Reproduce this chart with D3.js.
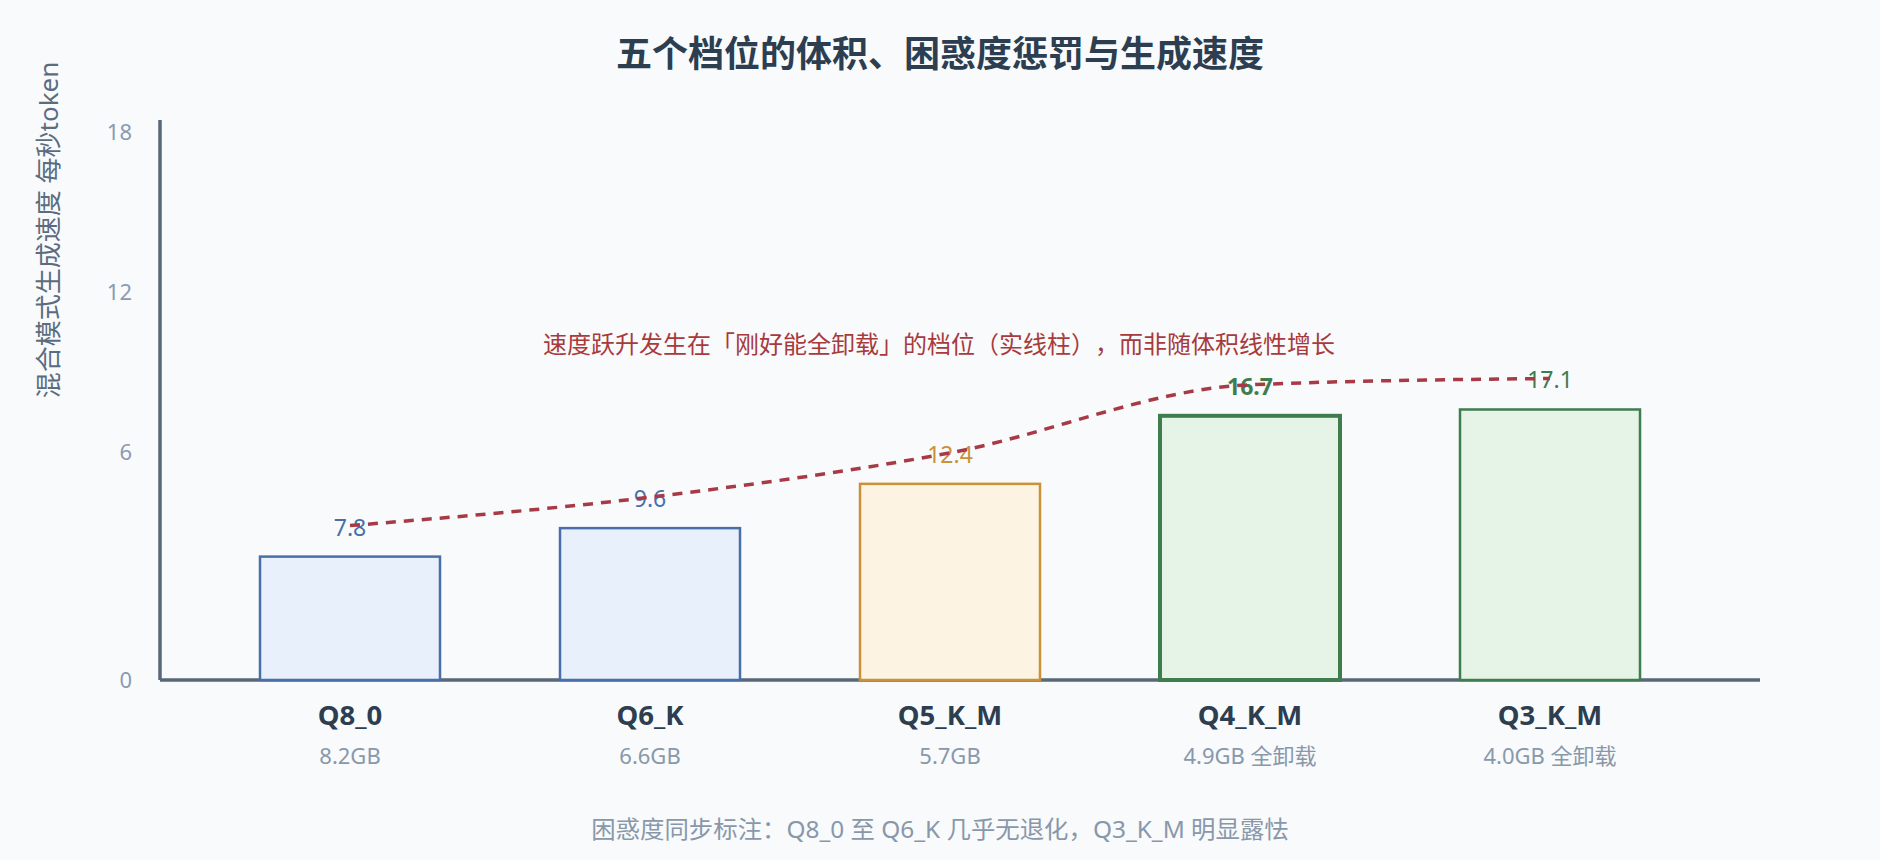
<!DOCTYPE html>
<html>
<head>
<meta charset="utf-8">
<script src="https://cdn.jsdelivr.net/npm/d3@7/dist/d3.min.js"></script>
<style>
  html, body { margin: 0; padding: 0; background: #f8fafc; }
  svg { display: block; font-family: "Noto Sans", "Noto Sans CJK SC", sans-serif; text-spacing-trim: space-all; }
  svg text { text-spacing-trim: space-all; }
</style>
</head>
<body>
<svg id="chart" width="1880" height="860"></svg>
<script>
// ---- data ----
const categories = ["Q8_0", "Q6_K", "Q5_K_M", "Q4_K_M", "Q3_K_M"];
const sizeLabels = ["8.2GB", "6.6GB", "5.7GB", "4.9GB 全卸载", "4.0GB 全卸载"];
const speeds = [7.8, 9.6, 12.4, 16.7, 17.1];
const groups = ["partial", "partial", "mid", "full", "full"];
const highlighted = ["Q4_K_M"];
const yTickValues = [0, 6, 12, 18];
const titleText = "五个档位的体积、困惑度惩罚与生成速度";
const yTitleText = "混合模式生成速度 每秒token";
const annotationText = "速度跃升发生在「刚好能全卸载」的档位（实线柱），而非随体积线性增长";
const noteText = "困惑度同步标注：Q8_0 至 Q6_K 几乎无退化，Q3_K_M 明显露怯";

// ---- styles ----
const palette = {
  partial: { fill: "#e8f0fc", stroke: "#4a6fa8", text: "#4a6fa8" },
  mid:     { fill: "#fdf3e2", stroke: "#c9913a", text: "#c9913a" },
  full:    { fill: "#e6f4e8", stroke: "#3f7d4f", text: "#3f7d4f" }
};

const W = 1880, H = 860;
const plotLeft = 160, plotRight = 1760, plotTop = 120, plotBottom = 680;

const svg = d3.select("#chart");
svg.append("rect").attr("width", W).attr("height", H).attr("fill", "#f8fafc");

const x = d3.scaleBand().domain(categories).range([200, 1700]).paddingInner(0.4).paddingOuter(0.2);
const yBar = d3.scaleLinear().domain([0, 35.4]).range([plotBottom, plotTop]);
const yAxisScale = d3.scaleLinear().domain([0, 6, 18]).range([plotBottom, 452, 132]);

const data = categories.map((c, i) => ({ cat: c, size: sizeLabels[i], v: speeds[i], g: groups[i], hi: highlighted.includes(c) }));

// title
svg.append("text").attr("x", W / 2).attr("y", 67).attr("text-anchor", "middle")
  .attr("font-size", 36).attr("font-weight", 700).attr("fill", "#2c3e50").text(titleText);

// y axis
const yAxis = svg.append("g").attr("transform", `translate(${plotLeft},0)`)
  .call(d3.axisLeft(yAxisScale).tickValues(yTickValues).tickSize(0).tickPadding(28).tickFormat(d3.format("d")));
yAxis.select(".domain").remove();
yAxis.selectAll("text").attr("font-size", 22).attr("fill", "#8a9bb0").attr("font-family", "Noto Sans, Noto Sans CJK SC, sans-serif");
svg.append("line").attr("x1", plotLeft).attr("x2", plotLeft).attr("y1", plotTop).attr("y2", plotBottom)
  .attr("stroke", "#586878").attr("stroke-width", 3.5);

// y title
svg.append("text").attr("transform", "translate(58,230) rotate(-90)").attr("text-anchor", "middle")
  .attr("font-size", 26).attr("fill", "#5c6c7e").text(yTitleText);

// x axis line
svg.append("line").attr("x1", plotLeft).attr("x2", plotRight).attr("y1", plotBottom).attr("y2", plotBottom)
  .attr("stroke", "#586878").attr("stroke-width", 3.5);

// bars
svg.selectAll("rect.bar").data(data).join("rect").attr("class", "bar")
  .attr("x", d => x(d.cat)).attr("width", x.bandwidth())
  .attr("y", d => yBar(d.v)).attr("height", d => yBar(0) - yBar(d.v))
  .attr("fill", d => palette[d.g].fill).attr("stroke", d => palette[d.g].stroke)
  .attr("stroke-width", d => d.hi ? 4 : 2.5);

// value labels
svg.selectAll("text.val").data(data).join("text").attr("class", "val")
  .attr("x", d => x(d.cat) + x.bandwidth() / 2).attr("y", d => yBar(d.v) - 21)
  .attr("text-anchor", "middle").attr("font-size", 23)
  .attr("font-weight", d => d.hi ? 700 : 400)
  .attr("fill", d => palette[d.g].text).text(d => d.v.toFixed(1));

// dashed trend line
const line = d3.line().x(d => x(d.cat) + x.bandwidth() / 2).y(d => yBar(d.v) - 31).curve(d3.curveMonotoneX);
svg.append("path").datum(data).attr("d", line).attr("fill", "none")
  .attr("stroke", "#a83a45").attr("stroke-width", 3.5).attr("stroke-dasharray", "10 8");

// annotation
svg.append("text").attr("x", 939).attr("y", 353).attr("text-anchor", "middle")
  .attr("font-size", 24).attr("fill", "#a83a3c").text(annotationText);

// x category labels
svg.selectAll("text.cat").data(data).join("text").attr("class", "cat")
  .attr("x", d => x(d.cat) + x.bandwidth() / 2).attr("y", 725).attr("text-anchor", "middle")
  .attr("font-size", 27.5).attr("font-weight", 700).attr("fill", "#2c3e50").text(d => d.cat);

svg.selectAll("text.size").data(data).join("text").attr("class", "size")
  .attr("x", d => x(d.cat) + x.bandwidth() / 2).attr("y", 764).attr("text-anchor", "middle")
  .attr("font-size", 22).attr("fill", "#8898aa").text(d => d.size);

// bottom note
svg.append("text").attr("x", W / 2).attr("y", 838).attr("text-anchor", "middle")
  .attr("font-size", 24.4).attr("fill", "#8898aa").text(noteText);
</script>
</body>
</html>
